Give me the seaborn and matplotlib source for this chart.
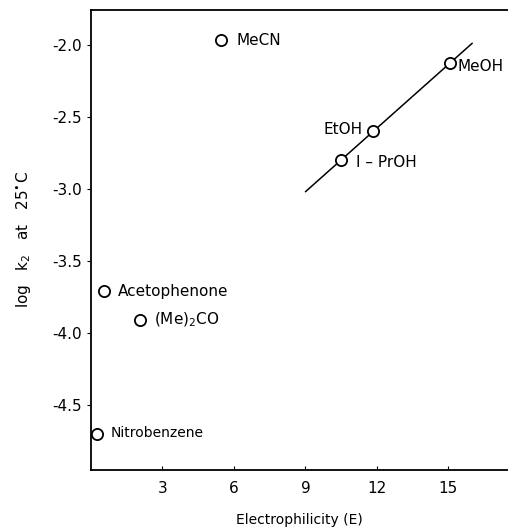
import numpy as np
import pandas as pd
import matplotlib
matplotlib.use("Agg")
import matplotlib.pyplot as plt
import seaborn as sns

# --- data ---
solvents = ["MeCN", "MeOH", "EtOH", "1-PrOH", "Acetophenone", "(Me)2CO", "Nitrobenzene"]
electrophilicity = [5.45, 15.05, 11.85, 10.5, 0.55, 2.05, 0.25]
log_k2 = [-1.97, -2.13, -2.60, -2.80, -3.71, -3.91, -4.70]
alcohols = ["MeOH", "EtOH", "1-PrOH"]
fit_range = [9.0, 16.0]

display_labels = {
    "MeCN": "MeCN",
    "MeOH": "MeOH",
    "EtOH": "EtOH",
    "1-PrOH": "I \u2013 PrOH",
    "Acetophenone": "Acetophenone",
    "(Me)2CO": "(Me)$_2$CO",
    "Nitrobenzene": "Nitrobenzene",
}
# label offsets in points (dx, dy, ha)
offsets = {
    "MeCN": (11, 0, "left"),
    "MeOH": (6, -2, "left"),
    "EtOH": (-8, 1.5, "right"),
    "1-PrOH": (11, -2, "left"),
    "Acetophenone": (10, 0, "left"),
    "(Me)2CO": (10, 0, "left"),
    "Nitrobenzene": (10, 1, "left"),
}

df = pd.DataFrame({"solvent": solvents, "E": electrophilicity, "logk": log_k2})

sns.set_style("ticks")
plt.rcParams["font.family"] = ["DejaVu Sans"]
plt.rcParams["text.color"] = "black"
plt.rcParams["axes.labelcolor"] = "black"
plt.rcParams["xtick.color"] = "black"
plt.rcParams["ytick.color"] = "black"

fig = plt.figure(figsize=(5.08, 5.31), dpi=100)
ax = fig.add_axes([0.179, 0.115, 0.821, 0.866])

# straight line through the alcohols
alc = df[df["solvent"].isin(alcohols)]
slope, icpt = np.polyfit(alc["E"], alc["logk"], 1)
xs = np.array(fit_range)
sns.lineplot(x=xs, y=slope * xs + icpt, ax=ax, color="black", lw=1.1)

sns.scatterplot(data=df, x="E", y="logk", ax=ax, s=65, marker="o",
                facecolor="white", edgecolor="black", linewidth=1.3, zorder=3)

for _, r in df.iterrows():
    dx, dy, ha = offsets[r["solvent"]]
    fs = 10 if r["solvent"] == "Nitrobenzene" else 11
    ax.annotate(display_labels[r["solvent"]], (r["E"], r["logk"]),
                xytext=(dx, dy), textcoords="offset points",
                ha=ha, va="center", fontsize=fs, color="black")

ax.set_xlim(0, 17.5)
ax.set_ylim(-4.95, -1.76)
ax.set_xticks([3, 6, 9, 12, 15])
ax.set_yticks([-2.0, -2.5, -3.0, -3.5, -4.0, -4.5])
ax.set_yticklabels(["-2.0", "-2.5", "-3.0", "-3.5", "-4.0", "-4.5"])
ax.tick_params(axis="x", direction="in", length=3, labelsize=11, pad=8)
ax.tick_params(axis="y", direction="out", length=3, labelsize=11)

ax.spines["right"].set_visible(False)
for sp in ["left", "top", "bottom"]:
    ax.spines[sp].set_linewidth(1.3)
    ax.spines[sp].set_color("black")

ax.set_xlabel("Electrophilicity (E)", fontsize=10, labelpad=12)
ax.set_ylabel("log   k$_2$   at   25$^{\\bullet}$C", fontsize=11, labelpad=14)

fig.savefig("out.png", dpi=100)
